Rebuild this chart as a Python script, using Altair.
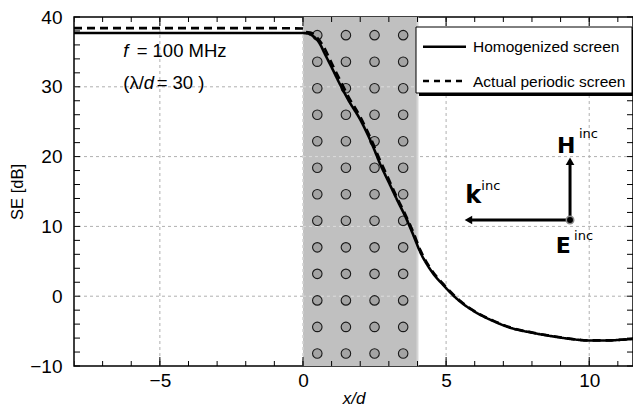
import altair as alt
import pandas as pd

# ---------------- data ----------------
hom_x = [-8, -1, 0, 0.15, 0.3, 0.44, 0.6, 0.73, 1.0, 1.3, 1.6, 2.0, 2.4, 2.7, 3.0, 3.3, 3.6,
         3.85, 4.1, 4.46, 4.9, 5.5, 6.1, 6.7, 7.3, 7.9, 8.8, 9.4, 10.0, 10.6, 11.1, 11.85]
hom_y = [37.7, 37.7, 37.7, 37.65, 37.4, 36.95, 36.1, 35.0, 32.8, 30.3, 28.0, 25.3, 21.9, 18.9,
         16.3, 13.7, 11.2, 8.8, 6.3, 3.75, 1.6, -0.8, -2.45, -3.65, -4.6, -5.15, -5.8, -6.15,
         -6.35, -6.35, -6.25, -6.0]

per_x = [-8, -1, 0, 0.05, 0.3, 0.5, 0.7, 1.0, 1.3, 1.6, 2.0, 2.4, 2.7, 3.0, 3.3, 3.6, 3.85,
         4.1, 4.46, 4.9, 5.5, 6.1, 6.7, 7.3, 7.9, 8.8, 9.4, 10.0, 10.6, 11.1, 11.85]
per_y = [38.4, 38.4, 38.35, 37.9, 37.7, 37.0, 35.9, 33.4, 30.9, 28.5, 25.7, 22.3, 19.4, 16.7,
         14.0, 11.5, 9.2, 6.6, 3.95, 1.75, -0.7, -2.4, -3.6, -4.55, -5.1, -5.78, -6.12, -6.33,
         -6.33, -6.24, -5.98]

series_names = ["Homogenized screen", "Actual periodic screen"]

cyl_x = [0.5, 1.5, 2.5, 3.5]
cyl_y = [37.4, 33.6, 29.8, 26.0, 22.2, 18.4, 14.6, 10.8, 7.0, 3.2, -0.6, -4.4, -8.2]

screen_x0 = [0]
screen_x1 = [4]

x_domain = [-8, 11.53]
y_domain = [-10, 40]
x_labels = [-5, 0, 5, 10]
y_labels = [-10, 0, 10, 20, 30, 40]
x_grid = [-5, 0, 5, 10]
y_grid = [0, 10, 20, 30]
x_minor = list(range(-8, 12))
y_minor = list(range(-10, 41, 2))

# field vectors (origin, arrow heads)
vec_origin = [9.33, 10.92]
head_x = [9.33, 5.78]
head_y = [19.35, 10.92]
head_shape = ["triangle-up", "triangle-left"]

# ---------------- helpers ----------------
W, H = 559, 349
FONT = "Liberation Sans"

xs = alt.Scale(domain=x_domain, nice=False, zero=False)
ys = alt.Scale(domain=y_domain, nice=False, zero=False)
xaxis = alt.Axis(values=x_labels, title="x/d", titleFontStyle="italic", labelPadding=5,
                 titlePadding=0, format="d")
yaxis = alt.Axis(values=y_labels, title="SE [dB]", labelPadding=12, titlePadding=4,
                 format="d", titleFontSize=16.5)


def X(f):
    return alt.X(f, type="quantitative", scale=xs, axis=xaxis)


def Y(f):
    return alt.Y(f, type="quantitative", scale=ys, axis=yaxis)


def one():
    return pd.DataFrame({"k": [0]})


layers = []

# grid under shading
layers.append(alt.Chart(pd.DataFrame({"v": x_grid})).mark_rule(
    color="#b0b0b0", strokeWidth=1, strokeDash=[3, 3]).encode(x=X("v")))
layers.append(alt.Chart(pd.DataFrame({"v": y_grid})).mark_rule(
    color="#b0b0b0", strokeWidth=1, strokeDash=[3, 3]).encode(y=Y("v")))

# shaded screen region
layers.append(alt.Chart(pd.DataFrame({"a": screen_x0, "b": screen_x1,
                                      "c": [y_domain[0]], "d": [y_domain[1]]})).mark_rect(
    color="#c0c0c0").encode(x=X("a"), x2="b", y=Y("c"), y2="d"))
layers.append(alt.Chart(pd.DataFrame({"b": screen_x1})).mark_rule(
    color="#d6d6d6", strokeWidth=2).encode(x=X("b")))

# light grid over shading
layers.append(alt.Chart(pd.DataFrame({"v": y_grid, "a": screen_x0 * len(y_grid),
                                      "b": screen_x1 * len(y_grid)})).mark_rule(
    color="#dcdcdc", strokeWidth=1, strokeDash=[3, 3]).encode(x=X("a"), x2="b", y=Y("v")))
layers.append(alt.Chart(pd.DataFrame({"v": screen_x0})).mark_rule(
    color="#e0e0e0", strokeWidth=1, strokeDash=[3, 3]).encode(x=X("v")))

# cylinders
cyl = pd.DataFrame([(a, b) for a in cyl_x for b in cyl_y], columns=["cx", "cy"])
layers.append(alt.Chart(cyl).mark_point(shape="circle", filled=True, fill="#a4a4a4",
                                        stroke="#1a1a1a", strokeWidth=1.1, size=90,
                                        opacity=1).encode(x=X("cx"), y=Y("cy")))

# curves
curves = pd.concat([
    pd.DataFrame({"x": hom_x, "y": hom_y, "s": series_names[0]}),
    pd.DataFrame({"x": per_x, "y": per_y, "s": series_names[1]}),
])
layers.append(alt.Chart(curves).mark_line(color="black", strokeWidth=2.6, clip=True,
                                          interpolate="monotone").encode(
    x=X("x"), y=Y("y"),
    strokeDash=alt.StrokeDash("s:N", scale=alt.Scale(domain=series_names,
                                                      range=[[1, 0], [8, 5]]), legend=None),
    order="x:Q"))

# inward ticks
tick_style = dict(color="black", strokeWidth=1)
layers.append(alt.Chart(pd.DataFrame({"v": x_minor})).mark_rule(clip=True, **tick_style).encode(
    x=X("v"), y=alt.value(H), y2=alt.value(H - 5)))
layers.append(alt.Chart(pd.DataFrame({"v": x_minor})).mark_rule(clip=True, **tick_style).encode(
    x=X("v"), y=alt.value(0), y2=alt.value(5)))
layers.append(alt.Chart(pd.DataFrame({"v": x_grid})).mark_rule(**tick_style).encode(
    x=X("v"), y=alt.value(H), y2=alt.value(H - 9)))
layers.append(alt.Chart(pd.DataFrame({"v": x_grid})).mark_rule(**tick_style).encode(
    x=X("v"), y=alt.value(0), y2=alt.value(9)))
layers.append(alt.Chart(pd.DataFrame({"v": y_minor})).mark_rule(**tick_style).encode(
    y=Y("v"), x=alt.value(0), x2=alt.value(6)))
layers.append(alt.Chart(pd.DataFrame({"v": y_minor})).mark_rule(**tick_style).encode(
    y=Y("v"), x=alt.value(W), x2=alt.value(W - 6)))

# legend (box with drop shadow, line samples and labels)
LX0, LX1, LY0, LY1 = 342, 558, 10, 76
ROWS = [29.7, 64.0]
layers.append(alt.Chart(one()).mark_rect(color="black").encode(
    x=alt.value(LX0 + 3), x2=alt.value(LX1 + 3), y=alt.value(LY0 + 3), y2=alt.value(LY1 + 3)))
layers.append(alt.Chart(one()).mark_rect(fill="white", stroke="black", strokeWidth=1).encode(
    x=alt.value(LX0), x2=alt.value(LX1), y=alt.value(LY0), y2=alt.value(LY1)))
layers.append(alt.Chart(one()).mark_rule(color="black", strokeWidth=2.5).encode(
    x=alt.value(LX0 + 7), x2=alt.value(LX0 + 50), y=alt.value(ROWS[0])))
layers.append(alt.Chart(one()).mark_rule(color="black", strokeWidth=2.5, strokeDash=[6, 5]).encode(
    x=alt.value(LX0 + 7), x2=alt.value(LX0 + 50), y=alt.value(ROWS[1])))
for name, ry in zip(series_names, ROWS):
    layers.append(alt.Chart(one()).mark_text(
        font=FONT, fontSize=15.5, align="left", baseline="middle", color="black").encode(
        x=alt.value(LX0 + 57), y=alt.value(ry + 0.5), text=alt.value(name)))

# field vectors
vec = pd.DataFrame({"x0": [vec_origin[0]] * 2, "y0": [vec_origin[1]] * 2,
                    "x1": [head_x[0], head_x[1]], "y1": [head_y[0], head_y[1]]})
layers.append(alt.Chart(vec).mark_rule(color="black", strokeWidth=3).encode(
    x=X("x0"), y=Y("y0"), x2="x1", y2="y1"))
for hx, hy, sh in zip(head_x, head_y, head_shape):
    layers.append(alt.Chart(pd.DataFrame({"x": [hx], "y": [hy]})).mark_point(
        shape=sh, filled=True, color="black", size=75, opacity=1).encode(x=X("x"), y=Y("y")))
layers.append(alt.Chart(pd.DataFrame({"x": [vec_origin[0]], "y": [vec_origin[1]]})).mark_point(
    shape="circle", filled=True, fill="black", stroke="#8a8a8a", strokeWidth=1.5, size=55,
    opacity=1).encode(x=X("x"), y=Y("y")))


def label(text, x, y, dx=0, size=18, style="normal", weight="normal", font=FONT,
          align="left"):
    return alt.Chart(pd.DataFrame({"x": [x], "y": [y], "t": [text]})).mark_text(
        font=font, fontSize=size, fontStyle=style, fontWeight=weight, align=align,
        baseline="alphabetic", dx=dx, color="black").encode(x=X("x"), y=Y("y"), text="t:N")


# frequency annotation
ann_x = -6.28
layers.append(label("f", ann_x, 34.31, 0, 18.5, style="italic"))
layers.append(label("= 100 MHz", ann_x, 34.31, 13.4, 18.5))
layers.append(label("(λ/", ann_x, 29.64, 0, 18.5))
layers.append(label("d", ann_x, 29.64, 20.5, 18.5, style="italic"))
layers.append(label("= 30 )", ann_x, 29.64, 33.4, 18.5))

# vector labels
BF = "DejaVu Sans"
layers.append(label("H", 9.20, 20.56, 0, 22, weight="bold", font=BF, align="center"))
layers.append(label("inc", 9.64, 22.62, 0, 13, font=BF))
layers.append(label("k", 5.95, 13.31, 0, 24, weight="bold", font=BF, align="center"))
layers.append(label("inc", 6.23, 15.21, 0, 13, font=BF))
layers.append(label("E", 9.09, 6.15, 0, 22, weight="bold", font=BF, align="center"))
layers.append(label("inc", 9.47, 8.05, 0, 13, font=BF))

chart = alt.layer(*layers).properties(
    width=W, height=H,
    padding={"left": 66, "top": 9, "right": 0, "bottom": 43},
    autosize="none",
).configure_view(stroke="black", strokeWidth=1.5).configure_axis(
    grid=False, ticks=False, tickSize=0, domain=False, labelFont=FONT, labelFontSize=19,
    labelColor="black", labelFlush=False, labelOverlap=False, titleFont=FONT,
    titleFontSize=17, titleFontWeight="normal", titleColor="black",
)

chart.save("out.html", embed_options={"renderer": "svg", "actions": False})
